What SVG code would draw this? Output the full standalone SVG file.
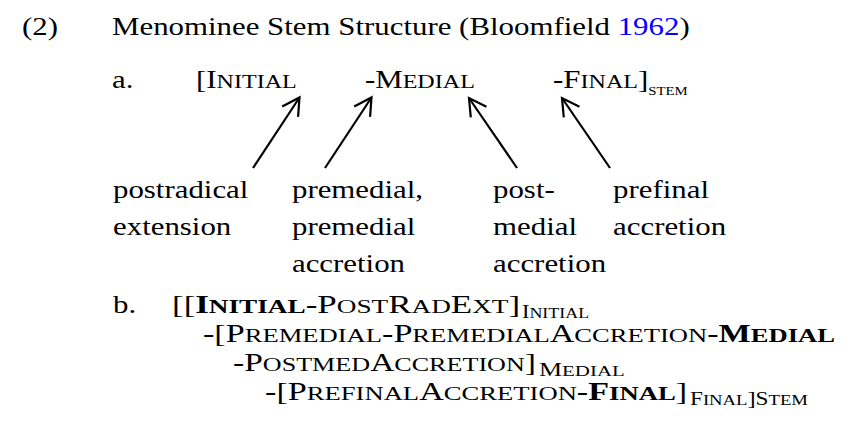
<svg xmlns="http://www.w3.org/2000/svg" width="864" height="446" viewBox="0 0 864 446">
<style>
text { font-family: "Liberation Serif", "Times New Roman", serif; font-size: 25px; fill: #000; }
.sc { font-size: 19.5px; }
.b { font-weight: bold; }
.sub { font-size: 18px; }
.subsc { font-size: 14.5px; }
.subst { font-size: 12px; }
.link { fill: #0000ff; }
.conn line { stroke: #000; stroke-width: 2.2; fill: none; }
</style>
<defs>
<marker id="ah" markerUnits="userSpaceOnUse" markerWidth="40" markerHeight="40" viewBox="-20 -20 40 40" refX="0" refY="0" orient="auto" overflow="visible">
<path d="M-17,-9.5 L0,0 L-17,9.5" fill="none" stroke="#000" stroke-width="2.2" stroke-linejoin="miter"/>
</marker>
</defs>
<rect width="864" height="446" fill="#fff"/>
<g transform="scale(1.235,1)">
  <g id="example-number"><text x="17.8" y="35">(2)</text></g>
  <g id="title"><text x="90.7" y="35">Menominee Stem Structure (Bloomfield <tspan class="link">1962</tspan>)</text></g>
  <g id="label-a"><text x="90.7" y="88">a.</text></g>
  <g id="node-initial"><text x="158.7" y="88">[I<tspan class="sc">NITIAL</tspan></text></g>
  <g id="node-medial"><text x="295.5" y="88">-M<tspan class="sc">EDIAL</tspan></text></g>
  <g id="node-final"><text x="447.8" y="88">-F<tspan class="sc">INAL</tspan>]<tspan class="subst" dy="7">STEM</tspan></text></g>
  <g id="node-postradical"><text x="91.5" y="198">postradical</text><text x="91.5" y="235">extension</text></g>
  <g id="node-premedial"><text x="236.4" y="198">premedial,</text><text x="236.4" y="235">premedial</text><text x="236.4" y="272">accretion</text></g>
  <g id="node-postmedial"><text x="399.2" y="198">post-</text><text x="399.2" y="235">medial</text><text x="399.2" y="272">accretion</text></g>
  <g id="node-prefinal"><text x="496.4" y="198">prefinal</text><text x="496.4" y="235">accretion</text></g>
  <g id="label-b"><text x="91.5" y="313">b.</text></g>
  <g id="b-line1">
    <text x="139.3" y="313" textLength="281.8" lengthAdjust="spacingAndGlyphs">[[<tspan class="b">I<tspan class="sc">NITIAL</tspan></tspan>-P<tspan class="sc">OST</tspan>R<tspan class="sc">AD</tspan>E<tspan class="sc">XT</tspan>]</text>
    <text x="422.7" y="318" textLength="54.3" lengthAdjust="spacingAndGlyphs"><tspan class="sub">I<tspan class="subsc">NITIAL</tspan></tspan></text>
  </g>
  <g id="b-line2"><text x="164.4" y="342" textLength="511.7" lengthAdjust="spacingAndGlyphs">-[P<tspan class="sc">REMEDIAL</tspan>-P<tspan class="sc">REMEDIAL</tspan>A<tspan class="sc">CCRETION</tspan>-<tspan class="b">M<tspan class="sc">EDIAL</tspan></tspan></text></g>
  <g id="b-line3">
    <text x="188.7" y="371" textLength="245.3" lengthAdjust="spacingAndGlyphs">-P<tspan class="sc">OSTMED</tspan>A<tspan class="sc">CCRETION</tspan>]</text>
    <text x="436.4" y="376" textLength="69.6" lengthAdjust="spacingAndGlyphs"><tspan class="sub">M<tspan class="subsc">EDIAL</tspan></tspan></text>
  </g>
  <g id="b-line4">
    <text x="214.6" y="400" textLength="341.7" lengthAdjust="spacingAndGlyphs">-[P<tspan class="sc">REFINAL</tspan>A<tspan class="sc">CCRETION</tspan>-<tspan class="b">F<tspan class="sc">INAL</tspan></tspan>]</text>
    <text x="558.7" y="405" textLength="95.5" lengthAdjust="spacingAndGlyphs"><tspan class="sub">F<tspan class="subsc">INAL</tspan></tspan><tspan font-size="19">]</tspan><tspan class="sub">S<tspan class="subsc">TEM</tspan></tspan></text>
  </g>
</g>
<g id="connectors" class="conn">
  <line x1="253" y1="168" x2="299.5" y2="97.5" marker-end="url(#ah)"/>
  <line x1="325" y1="168" x2="371.5" y2="97.5" marker-end="url(#ah)"/>
  <line x1="517" y1="168" x2="469" y2="98" marker-end="url(#ah)"/>
  <line x1="610" y1="168" x2="562" y2="98" marker-end="url(#ah)"/>
</g>
</svg>
